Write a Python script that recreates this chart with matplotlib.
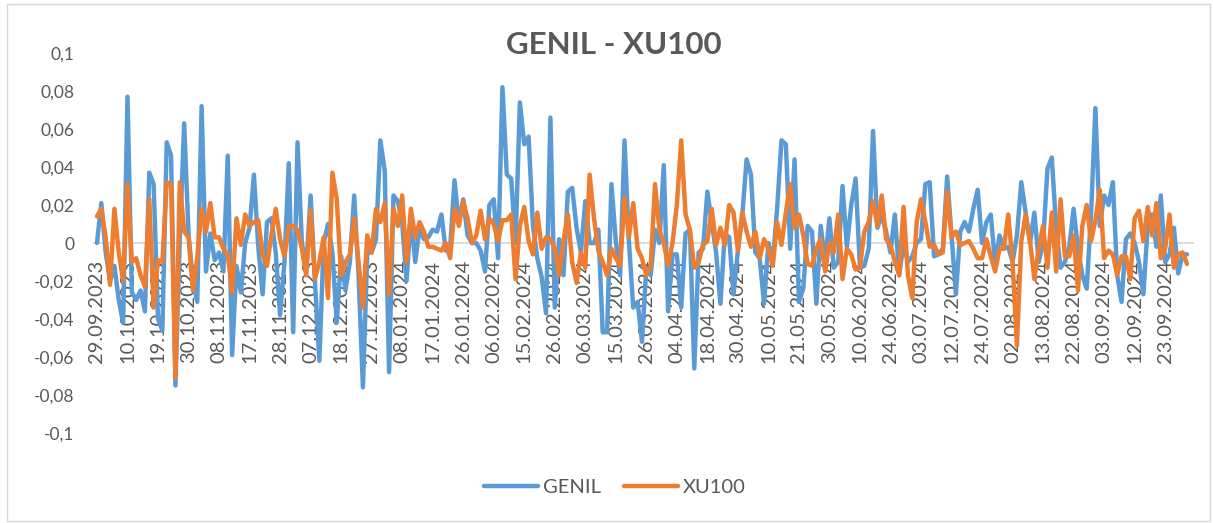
import numpy as np
import pandas as pd
import matplotlib
matplotlib.use("Agg")
import matplotlib.pyplot as plt
from matplotlib.patches import Rectangle

plt.rcParams['font.family'] = ['Lato', 'DejaVu Sans']

# trading days (Borsa Istanbul), holidays removed
holidays = ['2024-01-01', '2024-04-10', '2024-04-11', '2024-04-12', '2024-04-23',
            '2024-05-01', '2024-06-17', '2024-06-18', '2024-06-19', '2024-07-15',
            '2024-08-30']
dates = pd.bdate_range('2023-09-29', '2024-09-30', freq='C', holidays=holidays)
date_labels = [d.strftime('%d.%m.%Y') for d in dates]

genil = [
    0.000, 0.021, -0.005, -0.020, -0.012, -0.030, -0.042, 0.077, -0.026, -0.030,
    -0.025, -0.036, 0.037, 0.031, -0.040, -0.046, 0.053, 0.046, -0.075, 0.002,
    0.063, 0.005, -0.020, -0.031, 0.072, -0.015, 0.005, -0.009, -0.005, -0.015,
    0.046, -0.059, -0.012, -0.026, 0.000, 0.008, 0.036, -0.002, -0.027, 0.011,
    0.013, -0.005, -0.038, -0.010, 0.042, -0.047, 0.053, 0.000, -0.013, 0.025,
    -0.020, -0.062, 0.000, 0.010, -0.005, -0.042, -0.007, -0.025, -0.010, 0.025,
    -0.017, -0.076, -0.005, -0.005, 0.002, 0.054, 0.038, -0.068, 0.025, 0.022,
    0.011, -0.020, 0.014, -0.010, 0.008, 0.002, 0.003, 0.007, 0.006, 0.015,
    -0.004, -0.003, 0.033, 0.011, 0.023, 0.004, 0.000, 0.000, -0.004, -0.015,
    0.020, 0.023, -0.008, 0.082, 0.036, 0.034, 0.000, 0.074, 0.052, 0.056,
    0.009, -0.008, -0.018, -0.037, 0.066, -0.034, 0.002, -0.017, 0.027, 0.029,
    0.008, -0.005, 0.022, 0.000, 0.000, 0.007, -0.047, -0.047, 0.031, 0.001,
    -0.017, 0.054, 0.001, -0.034, -0.031, -0.052, -0.013, -0.017, 0.007, 0.000,
    0.041, -0.036, -0.006, -0.006, -0.034, 0.005, 0.007, -0.066, -0.005, -0.003,
    0.027, 0.011, -0.005, -0.032, 0.005, 0.003, -0.027, -0.004, 0.014, 0.044,
    0.036, -0.005, -0.008, -0.032, 0.000, -0.010, 0.018, 0.054, 0.052, -0.003,
    0.044, -0.031, -0.024, 0.009, 0.006, -0.032, 0.009, -0.010, 0.013, -0.013,
    -0.010, 0.030, -0.002, 0.020, 0.034, -0.013, -0.012, -0.003, 0.059, 0.008,
    0.015, 0.006, -0.005, 0.015, -0.017, 0.000, -0.010, -0.007, 0.000, 0.002,
    0.031, 0.032, -0.007, -0.006, -0.003, 0.035, 0.004, -0.027, 0.006, 0.011,
    0.006, 0.018, 0.028, 0.000, 0.011, 0.015, -0.011, 0.004, -0.003, -0.002,
    -0.010, 0.004, 0.032, 0.016, 0.000, 0.016, -0.010, 0.000, 0.039, 0.045,
    0.008, -0.013, -0.010, -0.002, 0.018, -0.003, -0.017, -0.024, 0.015, 0.071,
    0.009, 0.025, 0.020, 0.032, -0.017, -0.031, 0.002, 0.005, 0.000, -0.010,
    -0.027, 0.009, 0.015, -0.002, 0.025, -0.010, -0.006, 0.008, -0.016, -0.006,
    -0.006,
]

xu100 = [
    0.014, 0.018, 0.003, -0.022, 0.018, -0.005, -0.020, 0.031, -0.010, -0.008,
    -0.017, -0.023, 0.023, -0.034, -0.009, -0.010, 0.032, 0.031, -0.071, 0.032,
    0.006, 0.003, -0.025, -0.008, 0.018, 0.006, 0.021, 0.003, 0.003, -0.003,
    -0.006, -0.026, 0.013, -0.001, 0.015, 0.009, 0.011, 0.012, -0.006, -0.012,
    0.004, 0.018, 0.002, -0.007, 0.009, 0.009, 0.007, -0.003, -0.017, 0.017,
    -0.019, -0.010, 0.003, -0.029, 0.037, 0.023, -0.017, -0.010, -0.006, 0.013,
    -0.010, -0.034, 0.004, -0.005, 0.018, 0.011, 0.021, -0.027, 0.018, 0.009,
    0.025, -0.010, 0.018, 0.003, 0.011, 0.006, -0.002, -0.002, -0.003, -0.004,
    0.000, -0.008, 0.018, 0.009, 0.022, 0.013, 0.000, 0.004, 0.017, 0.002,
    0.013, 0.010, 0.001, 0.012, 0.012, 0.015, -0.019, 0.009, 0.019, 0.001,
    -0.006, 0.016, -0.003, 0.003, 0.002, -0.003, -0.017, 0.001, 0.015, -0.010,
    -0.021, -0.005, -0.013, 0.036, 0.013, -0.004, -0.010, -0.017, -0.003, -0.008,
    -0.012, 0.024, 0.003, 0.021, -0.003, -0.008, -0.017, -0.012, 0.031, 0.007,
    0.000, -0.012, 0.000, 0.020, 0.054, 0.015, 0.007, -0.013, -0.010, -0.001,
    0.001, 0.018, -0.001, 0.008, -0.001, 0.020, 0.016, -0.004, 0.016, 0.006,
    -0.002, 0.006, -0.008, 0.002, -0.003, -0.012, 0.011, -0.001, 0.016, 0.031,
    0.008, 0.015, 0.004, -0.011, -0.012, -0.003, 0.002, -0.015, 0.000, -0.005,
    0.015, -0.019, -0.003, -0.006, -0.014, -0.013, 0.006, 0.011, 0.022, 0.009,
    0.025, 0.002, -0.001, -0.010, -0.017, 0.019, -0.017, -0.029, 0.011, 0.023,
    0.011, -0.002, -0.001, -0.006, -0.005, 0.027, 0.003, 0.006, -0.001, 0.000,
    0.001, -0.003, -0.008, -0.008, 0.002, -0.007, -0.015, -0.003, -0.003, 0.015,
    -0.010, -0.054, 0.001, 0.015, 0.001, -0.019, -0.003, 0.009, -0.013, 0.016,
    -0.015, 0.023, -0.007, -0.007, 0.004, -0.025, 0.009, 0.020, 0.001, 0.012,
    0.028, -0.008, -0.004, -0.006, -0.017, -0.007, -0.007, -0.019, 0.013, 0.017,
    0.001, 0.019, 0.004, 0.021, -0.008, -0.003, 0.015, -0.013, -0.006, -0.005,
    -0.011,
]

y_ticks = [0.1, 0.08, 0.06, 0.04, 0.02, 0, -0.02, -0.04, -0.06, -0.08, -0.1]
y_labels = ['0,1', '0,08', '0,06', '0,04', '0,02', '0', '-0,02', '-0,04', '-0,06', '-0,08', '-0,1']

W, H = 1213, 523
fig = plt.figure(figsize=(W / 100, H / 100), dpi=100)
fig.patches.append(Rectangle((7 / W, 2 / H), 1203 / W, 517 / H, transform=fig.transFigure,
                             fill=False, edgecolor='#d9d9d9', linewidth=1))

ax = fig.add_axes([92.6 / W, 1 - 433 / H, (1193.5 - 92.6) / W, 380 / H])
x = np.arange(len(dates))

# lines above the axis labels, like in Excel
ax.axhline(0, color='#d9d9d9', linewidth=1.3, zorder=1)
ax.plot(x, genil, color='#5B9BD5', linewidth=3.2, label='GENIL', zorder=3,
        solid_joinstyle='round', solid_capstyle='round')
ax.plot(x, xu100, color='#ED7D31', linewidth=3.2, label='XU100', zorder=4,
        solid_joinstyle='round', solid_capstyle='round')

ax.set_xlim(-1, 251.5)
ax.set_ylim(-0.1, 0.1)
for s in ax.spines.values():
    s.set_visible(False)
ax.spines['bottom'].set_position(('data', 0))

ax.set_yticks(y_ticks)
ax.set_yticklabels(y_labels)
ax.tick_params(axis='y', length=0, pad=13, labelsize=12.5, labelcolor='#595959')

tick_pos = x[::7]
ax.set_xticks(tick_pos)
ax.set_xticklabels([date_labels[i] for i in tick_pos], rotation=90)
ax.tick_params(axis='x', length=0, pad=12, labelsize=14.5, labelcolor='#595959')

fig.text(614 / W, 1 - 45 / H, 'GENIL - XU100', ha='center', va='center',
         fontsize=22.5, fontweight='bold', color='#595959')

fig.legend(loc='center', bbox_to_anchor=(615 / W, 1 - 487 / H), ncol=2, frameon=False,
           fontsize=14.5, handlelength=2.7, handletextpad=0.25, columnspacing=1.1,
           labelcolor='#595959')

fig.savefig('out.png', dpi=100)
